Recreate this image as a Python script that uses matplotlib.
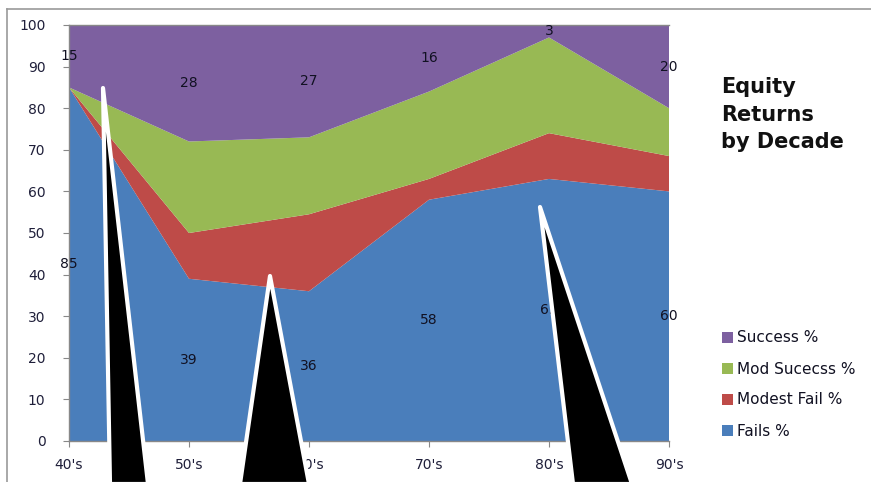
import matplotlib
matplotlib.use("Agg")
import matplotlib.pyplot as plt
from matplotlib.patches import Polygon, Rectangle
import numpy as np

decades = ["40's", "50's", "60's", "70's", "80's", "90's"]
fails = [85, 39, 36, 58, 63, 60]
modest_fail = [0, 11, 18.5, 5, 11, 8.5]
mod_success = [0, 22, 18.5, 21, 23, 11.5]
success = [15, 28, 27, 16, 3, 20]
yticks = [0, 10, 20, 30, 40, 50, 60, 70, 80, 90, 100]

series_names = ["Fails %", "Modest Fail %", "Mod Sucecss %", "Success %"]
colors = ["#4A7EBB", "#BE4B48", "#98B954", "#7D60A0"]

W, H = 871, 482
fig = plt.figure(figsize=(W / 100, H / 100), dpi=100)
fig.patch.set_facecolor("white")

def px(x0, y0, x1, y1):
    return [x0 / W, 1 - y1 / H, (x1 - x0) / W, (y1 - y0) / H]

ax = fig.add_axes(px(69, 25, 669, 441))
x = np.arange(len(decades))
ax.stackplot(x, fails, modest_fail, mod_success, success, colors=colors,
             labels=series_names, linewidth=0)
ax.set_xlim(0, len(decades) - 1)
ax.set_ylim(0, 100)
ax.set_yticks(yticks)
ax.set_xticks(x)
ax.set_xticklabels(decades)
txtc = "#1F1F3A"
ax.tick_params(axis="both", labelsize=10, colors="#888888", labelcolor=txtc,
               direction="out", length=4)
ax.tick_params(axis="y", pad=13)
ax.tick_params(axis="x", pad=8)
ax.spines["right"].set_visible(False)
for s in ["left", "bottom", "top"]:
    ax.spines[s].set_color("#888888")
    ax.spines[s].set_linewidth(1)

# data labels
bottoms = np.array(fails) + np.array(modest_fail) + np.array(mod_success)
for i in range(len(decades)):
    ax.text(x[i], bottoms[i] + success[i] / 2, str(success[i]), ha="center",
            va="center", fontsize=10, color="#111122")
    ax.text(x[i], fails[i] / 2, str(fails[i]), ha="center", va="center",
            fontsize=10, color="#111122")

# title
for line, yy in zip(["Equity", "Returns", "by Decade"], [87, 115, 142]):
    fig.text(721 / W, 1 - yy / H, line, ha="left", va="center", fontsize=15,
             fontweight="bold", color="#111111")

# legend
leg_items = list(zip(series_names, colors))[::-1]
ys = [338, 369, 400, 431]
for (name, c), yy in zip(leg_items, ys):
    fig.patches.append(Rectangle((722 / W, 1 - (yy + 5) / H), 11 / W, 11 / H,
                                 transform=fig.transFigure, facecolor=c,
                                 edgecolor="none", figure=fig))
    fig.text(737 / W, 1 - yy / H, name, ha="left", va="center", fontsize=11,
             color="#111122")

# outer frame
fig.add_artist(plt.Line2D([7 / W, 7 / W], [0, 1 - 9 / H], transform=fig.transFigure,
                          color="#9A9A9A", lw=1.2))
fig.add_artist(plt.Line2D([7 / W, 1], [1 - 9 / H, 1 - 9 / H], transform=fig.transFigure,
                          color="#9A9A9A", lw=1.2))

# callout pointers
tris = [
    [(103, 88), (110, 484), (148, 484)],
    [(270, 276), (240, 484), (309, 484)],
    [(540, 207), (573, 484), (632, 484)],
]
for t in tris:
    pts = [(a / W, 1 - b / H) for a, b in t]
    fig.patches.append(Polygon(pts, closed=True, transform=fig.transFigure,
                               facecolor="black", edgecolor="white", lw=3,
                               joinstyle="round", figure=fig, zorder=10))

fig.savefig("out.png", dpi=100)
